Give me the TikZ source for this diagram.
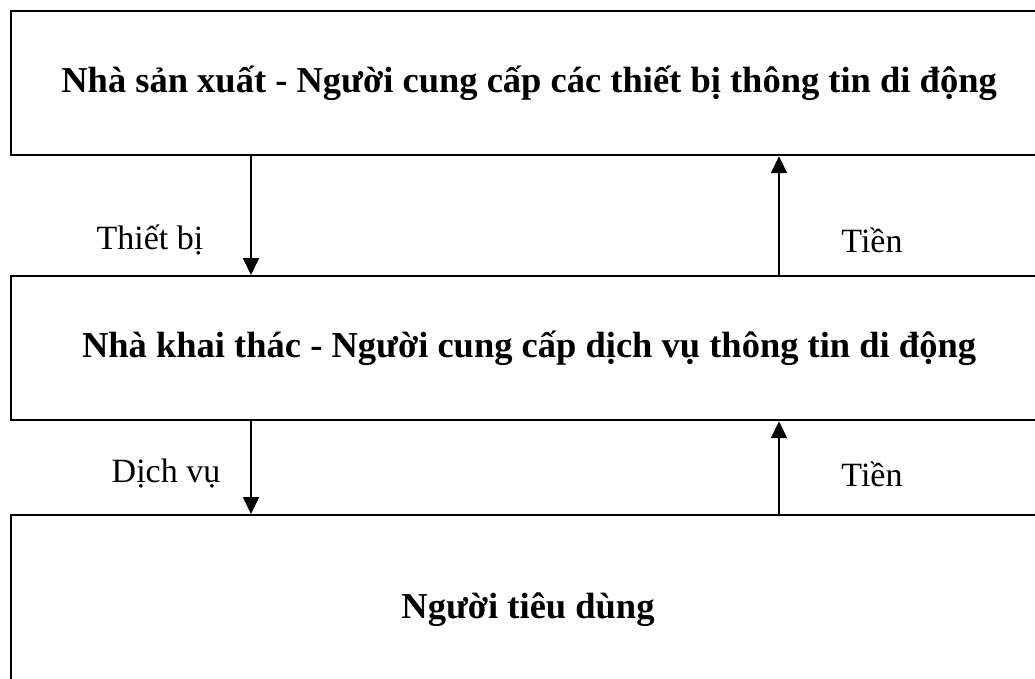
\documentclass[tikz,border=0pt]{standalone}
\usepackage{fontspec}
\setmainfont{Liberation Serif}
\usetikzlibrary{arrows.meta,calc}
\begin{document}
\begin{tikzpicture}[x=1pt,y=-1pt,
  box/.style={draw,line width=2.2pt,anchor=north west,inner sep=0pt,font=\fontsize{36.5}{42}\selectfont\bfseries},
  lbl/.style={font=\fontsize{34}{40}\selectfont,inner sep=0pt},
  arr/.style={line width=1.8pt,-{Triangle[width=16pt,length=17pt]}}]
\useasboundingbox (0,0) rectangle (1035,678);
\clip (0,0) rectangle (1035,678);
\node[box,minimum width=1036pt,minimum height=144pt] (b1) at (10,10) {Nhà sản xuất - Người cung cấp các thiết bị thông tin di động};
\node[box,minimum width=1036pt,minimum height=144pt] (b2) at (10,275) {Nhà khai thác - Người cung cấp dịch vụ thông tin di động};
\node[box,minimum width=1036pt,minimum height=200pt] (b3) at (10,514) {};
\node[font=\fontsize{36.5}{42}\selectfont\bfseries,inner sep=0pt] (t3) at (528,610) {Người tiêu dùng};
\draw[arr] ($(b1.south west)+(241,0)$) -- ($(b2.north west)+(241,0)$);
\draw[arr] ($(b2.north west)+(769,0)$) -- ($(b1.south west)+(769,0)$);
\draw[arr] ($(b2.south west)+(241,0)$) -- ($(b3.north west)+(241,0)$);
\draw[arr] ($(b3.north west)+(769,0)$) -- ($(b2.south west)+(769,0)$);
\node[lbl] (l1) at (150,240) {Thiết bị};
\node[lbl] (l2) at (872,240) {Tiền};
\node[lbl] (l3) at (166,474) {Dịch vụ};
\node[lbl] (l4) at (872,474) {Tiền};
\end{tikzpicture}
\end{document}
